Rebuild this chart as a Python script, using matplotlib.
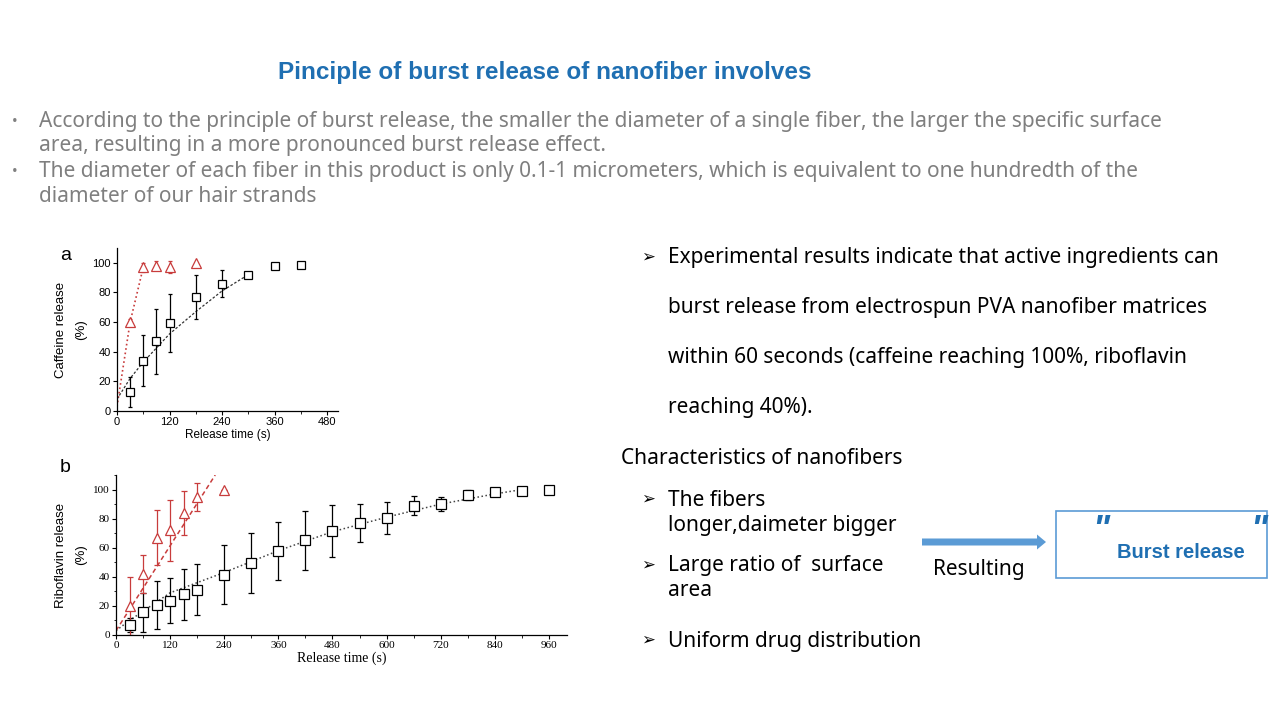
import matplotlib.pyplot as plt
from matplotlib.patches import FancyArrow, Rectangle
from matplotlib.ticker import MultipleLocator

# ---- data ----
# (a) caffeine release
caf_t_red = [30, 60, 90, 120, 180]
caf_red = [60, 97, 98, 97, 100]
caf_red_err = [2, 3, 3, 4, 0]
caf_fit_red_t = [0, 30, 60]
caf_fit_red = [3, 60, 97]

caf_t_blk = [30, 60, 90, 120, 180, 240, 300, 360, 420]
caf_blk = [13, 34, 47, 59.5, 77, 86, 92, 98, 98.5]
caf_blk_err = [10, 17, 22, 19.5, 15, 9, 2, 1, 1]
caf_fit_blk_t = [0, 30, 60, 120, 180, 240, 300]
caf_fit_blk = [8, 22, 33, 52, 67, 81, 92]

# (b) riboflavin release
rib_t_red = [30, 60, 90, 120, 150, 180, 240]
rib_red = [20, 42, 67, 72, 84, 95, 100]
rib_red_err = [20, 13, 19, 21, 15, 9.5, 0]
rib_fit_red_t = [0, 220]
rib_fit_red = [3, 110]

rib_t_blk = [30, 60, 90, 120, 150, 180, 240, 300, 360, 420, 480, 540, 600,
             660, 720, 780, 840, 900, 960]
rib_blk = [7, 15.5, 20.5, 23.5, 28, 31, 41.5, 49.5, 57.5, 65, 71.5, 77, 80.5,
           89, 90, 96, 98, 99, 99.5]
rib_blk_err = [5, 13.5, 16.5, 15.5, 17.5, 17.5, 20.5, 20.5, 20, 20, 18, 13, 11,
               6.5, 5, 3.5, 1, 1, 1]
rib_fit_blk_t = [0, 30, 120, 240, 360, 480, 600, 720, 840, 900]
rib_fit_blk = [3, 10, 29, 43, 58, 71, 81, 90, 97, 100]

RED = '#C83C3C'
BLUE_T = '#1F6FB2'
ARROW_BLUE = '#5B9BD5'
FAM = ['Noto Sans', 'DejaVu Sans']
BOLD_FAM = ['Liberation Sans', 'DejaVu Sans']

fig = plt.figure(figsize=(12.8, 7.2), dpi=100)
fig.patch.set_facecolor('white')

# background axes in pixel coordinates for the slide text
bg = fig.add_axes([0, 0, 1, 1])
bg.set_xlim(0, 1280)
bg.set_ylim(720, 0)
bg.axis('off')

bg.text(545, 72, 'Pinciple of burst release of nanofiber involves', color=BLUE_T,
        fontsize=17.5, weight='bold', ha='center', va='center', family=BOLD_FAM)

bullets = [
    (121, 'According to the principle of burst release, the smaller the diameter of a single fiber, the larger the specific surface', True),
    (145, 'area, resulting in a more pronounced burst release effect.', False),
    (171, 'The diameter of each fiber in this product is only 0.1-1 micrometers, which is equivalent to one hundredth of the', True),
    (195, 'diameter of our hair strands', False),
]
for y, s, dot in bullets:
    if dot:
        bg.text(15, y + 1, '•', color='#808080', fontsize=11, ha='center', va='center', family=FAM)
    bg.text(39, y + 1, s, color='#7F7F7F', fontsize=15, ha='left', va='center', family=FAM)

right_lines = [
    (257, 'Experimental results indicate that active ingredients can', True),
    (307, 'burst release from electrospun PVA nanofiber matrices', False),
    (356, 'within 60 seconds (caffeine reaching 100%, riboflavin', False),
    (406, 'reaching 40%).', False),
    (499, 'The fibers', True),
    (524, 'longer,daimeter bigger', False),
    (565, 'Large ratio of  surface', True),
    (590, 'area', False),
    (640, 'Uniform drug distribution', True),
]
for y, s, arr in right_lines:
    if arr:
        bg.text(648, y + 1, '➢', color='black', fontsize=12, ha='center', va='center', family=FAM)
    bg.text(668, y + 1, s, color='black', fontsize=15, ha='left', va='center', family=FAM)

bg.text(621, 458, 'Characteristics of nanofibers', color='black', fontsize=15,
        ha='left', va='center', family=FAM)

bg.add_patch(FancyArrow(922, 542, 124, 0, width=7, head_width=15, head_length=9,
                        length_includes_head=True, color=ARROW_BLUE, lw=0))
bg.text(933, 570, 'Resulting', color='black', fontsize=15, ha='left', va='center', family=FAM)
bg.add_patch(Rectangle((1056, 511), 211, 67, fill=False, edgecolor=ARROW_BLUE, lw=1.2))
bg.text(1101, 532, '"', color=BLUE_T, fontsize=26, weight='bold', style='italic',
        ha='center', va='center', family=BOLD_FAM)
bg.text(1259, 532, '"', color=BLUE_T, fontsize=26, weight='bold', style='italic',
        ha='center', va='center', family=BOLD_FAM)
bg.text(1181, 552, 'Burst release', color=BLUE_T, fontsize=14.5, weight='bold',
        ha='center', va='center', family=BOLD_FAM)

# panel letters
bg.text(66, 255, 'a', fontsize=14, ha='center', va='center', family=['Liberation Sans'])
bg.text(65, 468, 'b', fontsize=14, ha='center', va='center', family=['Liberation Sans'])


def style_axes(ax, serif):
    fam = 'Liberation Serif' if serif else 'Liberation Sans'
    for side in ['top', 'right']:
        ax.spines[side].set_visible(False)
    for side in ['left', 'bottom']:
        ax.spines[side].set_linewidth(0.9)
    ax.tick_params(direction='out', length=3, width=0.8, labelsize=8, pad=1.5)
    ax.tick_params(which='minor', direction='out', length=1.8, width=0.6)
    for lab in ax.get_xticklabels() + ax.get_yticklabels():
        lab.set_family(fam)
    ax.set_facecolor('none')


# ---- panel a ----
ax1 = fig.add_axes([117 / 1280, 1 - 411 / 720, 221 / 1280, 163 / 720])
ax1.plot(caf_fit_red_t, caf_fit_red, ls=':', color=RED, lw=1.2)
ax1.plot(caf_fit_blk_t, caf_fit_blk, ls=(0, (2, 1.5)), color='#333333', lw=0.9)
ax1.errorbar(caf_t_blk, caf_blk, yerr=caf_blk_err, fmt='s', mfc='white', mec='black',
             ecolor='black', ms=6, mew=0.9, elinewidth=0.9, capsize=1.5)
ax1.errorbar(caf_t_red, caf_red, yerr=caf_red_err, fmt='^', mfc='white', mec=RED,
             ecolor=RED, ms=6.5, mew=0.9, elinewidth=0.9, capsize=1.5)
ax1.set_xlim(0, 505)
ax1.set_ylim(0, 110)
ax1.set_xticks([0, 120, 240, 360, 480])
ax1.set_yticks([0, 20, 40, 60, 80, 100])
ax1.xaxis.set_minor_locator(MultipleLocator(60))
ax1.set_xlabel('Release time (s)', fontsize=8.5, family='Liberation Sans', labelpad=1)
ax1.set_ylabel('Caffeine release\n(%)', fontsize=9.5, family='Liberation Sans',
               labelpad=4, linespacing=1.9)
style_axes(ax1, False)

# ---- panel b ----
ax2 = fig.add_axes([116 / 1280, 1 - 635 / 720, 451 / 1280, 160 / 720])
ax2.plot(rib_fit_red_t, rib_fit_red, ls=(0, (3, 2)), color=RED, lw=1.1)
ax2.plot(rib_fit_blk_t, rib_fit_blk, ls=':', color='#444444', lw=1.1)
ax2.errorbar(rib_t_blk, rib_blk, yerr=rib_blk_err, fmt='s', mfc='white', mec='black',
             ecolor='black', ms=6.5, mew=0.9, elinewidth=0.9, capsize=2)
ax2.errorbar(rib_t_red, rib_red, yerr=rib_red_err, fmt='^', mfc='white', mec=RED,
             ecolor=RED, ms=7, mew=0.9, elinewidth=0.9, capsize=2)
ax2.set_xlim(0, 1000)
ax2.set_ylim(0, 110)
ax2.set_xticks(range(0, 961, 120))
ax2.set_yticks([0, 20, 40, 60, 80, 100])
ax2.xaxis.set_minor_locator(MultipleLocator(60))
ax2.yaxis.set_minor_locator(MultipleLocator(10))
ax2.set_xlabel('Release time (s)', fontsize=10, family='Liberation Serif', labelpad=1)
ax2.set_ylabel('Riboflavin release\n(%)', fontsize=9.5, family='Liberation Sans',
               labelpad=4, linespacing=1.9)
style_axes(ax2, True)

fig.savefig('out.png', dpi=100)
